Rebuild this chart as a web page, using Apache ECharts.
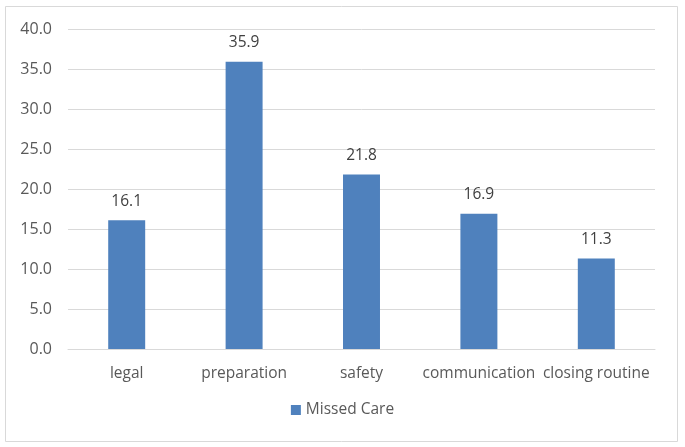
<!DOCTYPE html>
<html>
<head>
<meta charset="utf-8">
<script src="https://cdn.jsdelivr.net/npm/echarts@6/dist/echarts.min.js"></script>
<style>
html,body{margin:0;padding:0;background:#fff;}
#chart{width:685px;height:447px;}
</style>
</head>
<body>
<div id="chart"></div>
<script>
const categories = ["legal", "preparation", "safety", "communication", "closing routine"];
const missedCare = [16.1, 35.9, 21.8, 16.9, 11.3];
const seriesName = "Missed Care";

const chart = echarts.init(document.getElementById('chart'), null, {renderer: 'canvas'});
const fontFamily = "Open Sans, Noto Sans, sans-serif";
chart.setOption({
  animation: false,
  backgroundColor: '#ffffff',
  textStyle: {fontFamily: fontFamily},
  graphic: [{
    type: 'rect',
    shape: {x: 5.5, y: 6.5, width: 672, height: 435},
    style: {fill: 'none', stroke: '#d9d9d9', lineWidth: 1},
    silent: true
  }],
  grid: {left: 68, right: 30, top: 29, bottom: 98},
  legend: {
    bottom: 24,
    left: 'center',
    itemWidth: 10,
    itemHeight: 10,
    icon: 'rect',
    itemGap: 10,
    textStyle: {color: '#595959', fontSize: 15.5, fontFamily: fontFamily},
    data: [seriesName]
  },
  xAxis: {
    type: 'category',
    data: categories,
    axisLine: {show: true, lineStyle: {color: '#d9d9d9', width: 1}},
    axisTick: {show: false},
    axisLabel: {color: '#595959', fontSize: 15.5, margin: 17, interval: 0, fontFamily: fontFamily}
  },
  yAxis: {
    type: 'value',
    min: 0,
    max: 40,
    interval: 5,
    axisLine: {show: false},
    axisTick: {show: false},
    splitLine: {lineStyle: {color: '#d9d9d9', width: 1}},
    axisLabel: {
      color: '#595959', fontSize: 16, margin: 16, fontFamily: fontFamily,
      formatter: v => v.toFixed(1)
    }
  },
  series: [{
    name: seriesName,
    type: 'bar',
    data: missedCare,
    barWidth: '31.5%',
    itemStyle: {color: '#4f81bd'},
    label: {
      show: true,
      position: 'top',
      distance: 11,
      color: '#404040',
      fontSize: 15.5,
      fontFamily: fontFamily,
      formatter: p => p.value.toFixed(1)
    }
  }]
});
</script>
</body>
</html>
